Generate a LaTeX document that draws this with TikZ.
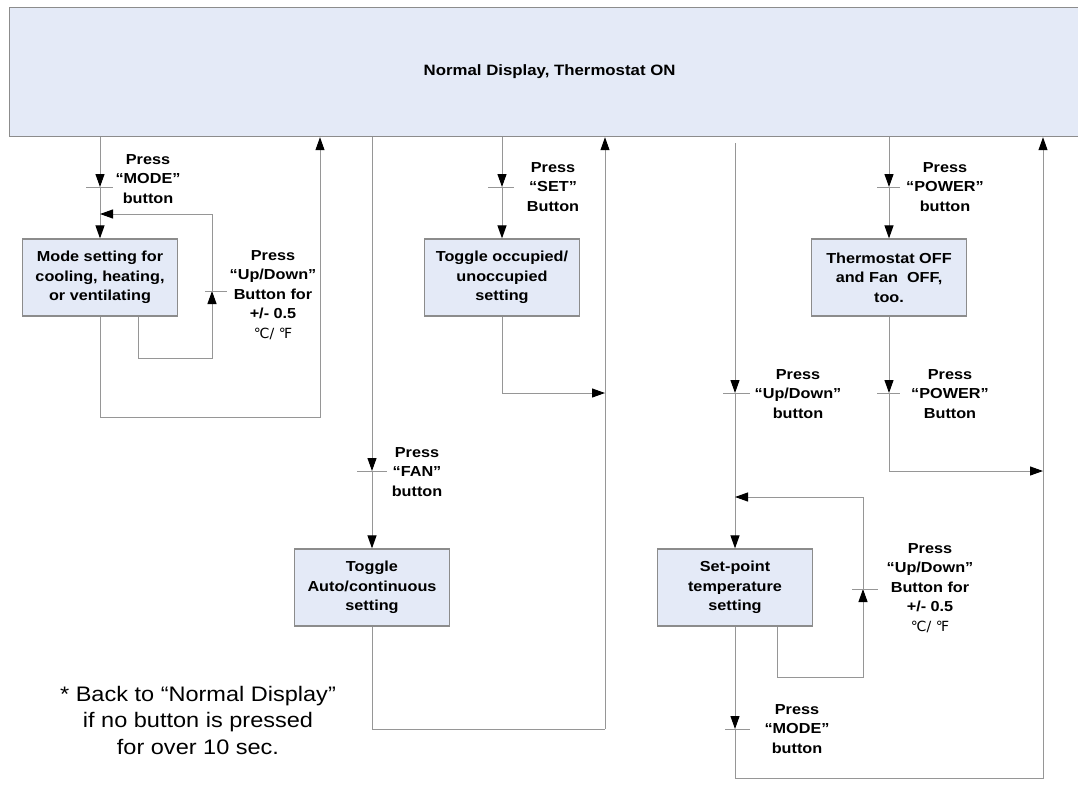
\documentclass[tikz,border=0pt]{standalone}
\usepackage{fontspec}
\setmainfont{Liberation Sans}[FakeStretch=1.12]
\newfontfamily\unitfont{DejaVu Sans}
\usetikzlibrary{arrows.meta}
\definecolor{boxfill}{RGB}{228,234,247}
\definecolor{boxline}{RGB}{140,140,140}
\definecolor{wire}{RGB}{150,150,150}

\begin{document}
\begin{tikzpicture}[x=1pt,y=-1pt,
  box/.style={draw=boxline,line width=1.2pt,fill=boxfill,minimum width=155pt,minimum height=77pt,
    align=center,inner sep=2pt,font=\fontsize{14.5}{19.5}\selectfont\bfseries},
  link/.style={draw=wire,line width=1pt},
  flow/.style={link,-{Triangle[length=13pt,width=9pt,color=black]}},
  tickmark/.style={draw=wire,line width=1pt},
  lbl/.style={align=center,inner sep=0pt,font=\fontsize{14.5}{19.5}\selectfont\bfseries}]
\useasboundingbox (0,0) rectangle (1078,785);

%*** Boxes ***
\node[box,anchor=north west,minimum width=1080pt,minimum height=129pt,font=\fontsize{15}{18}\selectfont\bfseries] (disp) at (9,7) {Normal Display, Thermostat ON};
\node[box] (mode) at (100,277.5) {Mode setting for\\cooling, heating,\\or ventilating};
\node[box] (occ) at (502,277.5) {Toggle occupied/\\unoccupied\\setting};
\node[box] (off) at (889,277.5) {Thermostat OFF\\and Fan~~OFF,\\too.};
\node[box] (fan) at (372,587.5) {Toggle\\Auto/continuous\\setting};
\node[box] (setpt) at (735,587.5) {Set-point\\temperature\\setting};

%*** Mode column ***
\coordinate (mt) at (100,187);
\draw[flow] (disp.south -| mt) -- (mt);
\draw[tickmark] (mt) ++(-14,0) -- ++(27,0);
\draw[flow] (mt) -- (mode.north);
\node[lbl] (mlbl) at (148,179) {Press\\“MODE”\\button};
%Loop
\coordinate (mu) at (212,291);
\coordinate (mj) at (100,214);
\draw[flow] ([xshift=38pt]mode.south) -- ++(0,42) -| (mu);
\draw[tickmark] (mu) ++(-7,0) -- ++(22,0);
\draw[flow] (mu) |- (mj);
\node[lbl] (mulbl) at (273,295) {Press\\“Up/Down”\\Button for\\+/- 0.5\\{\unitfont\mdseries\fontsize{14}{19.5}\selectfont ℃/ ℉}};
%Back
\coordinate (mb) at (320,417);
\draw[flow] (mode.south) |- (mb) -- (disp.south -| mb);

%*** Fan column ***
\coordinate (ft) at (372,471);
\draw[flow] (disp.south -| ft) -- (ft);
\draw[tickmark] (ft) ++(-15,0) -- ++(30,0);
\draw[flow] (ft) -- (fan.north);
\node[lbl] (flbl) at (417,472) {Press\\“FAN”\\button};
\coordinate (fb) at (605,729);
\draw[link] (fan.south) |- (fb);
\draw[flow] (fb) -- (disp.south -| fb);

%*** Set column ***
\coordinate (st) at (502,187);
\draw[flow] (disp.south -| st) -- (st);
\draw[tickmark] (st) ++(-14,0) -- ++(26,0);
\draw[flow] (st) -- (occ.north);
\node[lbl] (slbl) at (553,187) {Press\\“SET”\\Button};
\coordinate (sj) at (605,393);
\draw[flow] (occ.south) |- (sj);

%*** Up/Down column ***
\coordinate (ut0) at (735,143);
\coordinate (ut) at (735,393);
\draw[flow] (ut0) -- (ut);
\draw[tickmark] (ut) ++(-12,0) -- ++(27,0);
\draw[flow] (ut) -- (setpt.north);
\node[lbl] (ulbl) at (798,394) {Press\\“Up/Down”\\button};
%Loop
\coordinate (uu) at (863,589);
\coordinate (uj) at (735,497);
\draw[flow] ([xshift=42pt]setpt.south) -- ++(0,51) -| (uu);
\draw[tickmark] (uu) ++(-11,0) -- ++(26,0);
\draw[flow] (uu) |- (uj);
\node[lbl] (uulbl) at (930,588) {Press\\“Up/Down”\\Button for\\+/- 0.5\\{\unitfont\mdseries\fontsize{14}{19.5}\selectfont ℃/ ℉}};
%Mode back
\coordinate (um) at (735,729);
\draw[flow] (setpt.south) -- (um);
\draw[tickmark] (um) ++(-10,0) -- ++(25,0);
\node[lbl] (umlbl) at (797,729) {Press\\“MODE”\\button};
\coordinate (ub) at (1043,778);
\draw[flow] (um) |- (ub) -- (disp.south -| ub);

%*** Power column ***
\coordinate (pt1) at (889,187);
\draw[flow] (disp.south -| pt1) -- (pt1);
\draw[tickmark] (pt1) ++(-12,0) -- ++(23,0);
\draw[flow] (pt1) -- (off.north);
\node[lbl] (p1lbl) at (945,187) {Press\\“POWER”\\button};
\coordinate (pt2) at (889,393);
\draw[flow] (off.south) -- (pt2);
\draw[tickmark] (pt2) ++(-12,0) -- ++(23,0);
\node[lbl] (p2lbl) at (950,394) {Press\\“POWER”\\Button};
\coordinate (pj) at (1043,471);
\draw[flow] (pt2) |- (pj);

%Note
\node[align=center,inner sep=0pt,font=\fontsize{21}{26.5}\selectfont] (note) at (198,720) {* Back to “Normal Display”\\if no button is pressed\\for over 10 sec.};
\end{tikzpicture}
\end{document}
